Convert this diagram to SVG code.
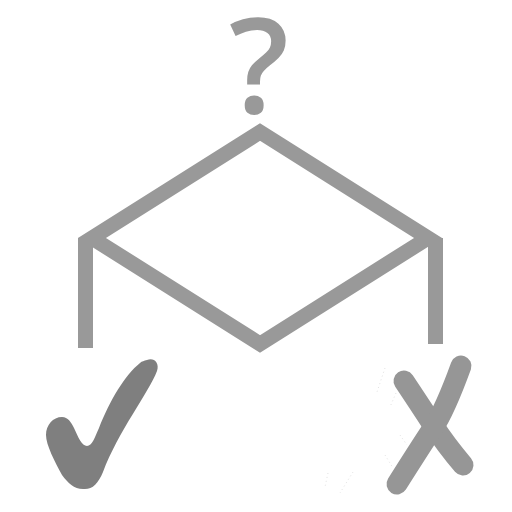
<svg xmlns="http://www.w3.org/2000/svg" width="512" height="512" viewBox="0 0 512 512">
  <style>
    .line { fill: none; stroke: #999999; stroke-width: 15; stroke-linejoin: miter; stroke-miterlimit: 10; }
    .xstroke { fill: none; stroke: #969696; stroke-width: 21; stroke-linecap: round; stroke-linejoin: round; }
    .dots { fill: none; stroke: #e2e2e2; stroke-width: 1; stroke-dasharray: 1 3; }
    .q { font-family: "Open Sans", "DejaVu Sans", sans-serif; font-size: 132px; font-weight: 600; fill: #999999; }
  </style>
  <rect width="512" height="512" fill="#ffffff"/>
  <g id="question">
    <text class="q" x="259" y="113" text-anchor="middle">?</text>
  </g>
  <g id="decision">
    <polygon class="line" points="260,132 428,238 260,344 92,238"/>
  </g>
  <g id="connectors">
    <rect x="78" y="238" width="15" height="110" fill="#999999"/>
    <rect x="428" y="238" width="15" height="106" fill="#999999"/>
  </g>
  <g id="yes">
    <path fill="#7f7f7f" d="M 147,360 C 153,357 160,362 157,371 C 149,392 118,432 103,472 C 98,484 92,490 83,489 C 74,489 68,483 62,475 C 55,462 46,445 46,435 C 46,425 53,417 62,417 C 68,417 71,422 74,428 C 78,437 82,446 87,446 C 92,446 95,437 99,428 C 110,400 125,375 140,363 C 142,361 144,361 147,360 Z"/>
  </g>
  <g id="no">
    <path class="xstroke" d="M 404,381 Q 420,405 433,425 T 463,465"/>
    <path class="xstroke" d="M 461,366 Q 445,410 433,428 T 397,484"/>
    <path class="dots" d="M 385,368 L 377,392 M 396,393 L 390,407 M 400,435 L 407,445 M 385,455 L 393,468 M 328,473 L 325,487 M 353,472 L 340,493"/>
  </g>
</svg>
